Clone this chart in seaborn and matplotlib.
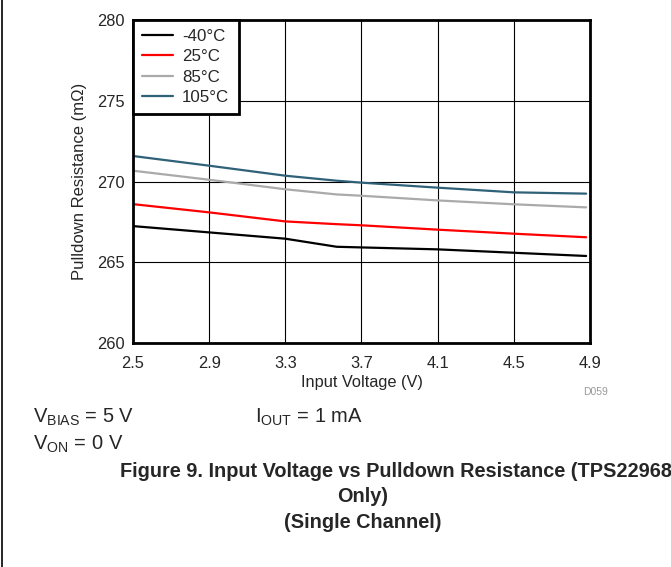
import pandas as pd
import numpy as np
import matplotlib.pyplot as plt
import matplotlib.lines as mlines
import seaborn as sns

# Values
vin = [2.5, 2.9, 3.3, 3.57, 3.7, 4.1, 4.5, 4.88]
r_m40 = [267.24, 266.85, 266.46, 265.96, 265.92, 265.80, 265.59, 265.39]
r_25 = [268.60, 268.09, 267.53, 267.36, 267.29, 267.02, 266.77, 266.55]
r_85 = [270.67, 270.11, 269.52, 269.20, 269.12, 268.83, 268.59, 268.40]
r_105 = [271.58, 270.98, 270.36, 270.05, 269.93, 269.62, 269.33, 269.25]
temps = ['-40°C', '25°C', '85°C', '105°C']
colors = ['#000000', '#ff0000', '#aaaaaa', '#2f6178']

sns.set_style('white')
plt.rcParams['font.family'] = ['Liberation Sans', 'DejaVu Sans']
plt.rcParams['mathtext.fontset'] = 'custom'
plt.rcParams['mathtext.rm'] = 'Liberation Sans'

df = pd.DataFrame({
    'vin': vin * 4,
    'r': r_m40 + r_25 + r_85 + r_105,
    'temp': np.repeat(temps, len(vin)),
})

fig = plt.figure(figsize=(6.71, 5.67), dpi=100)
ax = fig.add_axes([0.1982, 0.395, 0.681, 0.5697])
sns.lineplot(data=df, x='vin', y='r', hue='temp', hue_order=temps,
             palette=colors, linewidth=1.6, ax=ax)

ax.set_xlim(2.5, 4.9)
ax.set_ylim(260, 280)
ax.set_xticks([2.5, 2.9, 3.3, 3.7, 4.1, 4.5, 4.9])
ax.set_xticklabels(['2.5', '2.9', '3.3', '3.7', '4.1', '4.5', '4.9'])
ax.set_yticks([260, 265, 270, 275, 280])
ax.grid(True, color='black', linewidth=0.8)
ax.tick_params(length=0, labelsize=11.8)
ax.tick_params(axis='x', pad=9)
ax.tick_params(axis='y', pad=6)
for s in ax.spines.values():
    s.set_linewidth(2)
    s.set_color('black')
ax.set_xlabel('Input Voltage (V)', fontsize=11.8, labelpad=3)
ax.set_ylabel('Pulldown Resistance (mΩ)', fontsize=12, labelpad=7)

leg = ax.legend(loc='upper left', borderaxespad=0, fancybox=False,
                fontsize=12.2, handlelength=1.8, handletextpad=0.55,
                labelspacing=0.3, borderpad=0.55, framealpha=1)
leg.get_frame().set_edgecolor('black')
leg.get_frame().set_linewidth(2)

fig.text(0.888, 0.304, 'D059', fontsize=7.5, color='#999999', ha='center')

fig.text(0.049, 0.254, r'$\mathregular{V_{BIAS}}$ = 5 V', fontsize=14.5)
fig.text(0.38, 0.254, r'$\mathregular{I_{OUT}}$ = 1 mA', fontsize=14.5)
fig.text(0.049, 0.206, r'$\mathregular{V_{ON}}$ = 0 V', fontsize=14.5)

fig.text(0.179, 0.168, 'Figure 9. Input Voltage vs Pulldown Resistance (TPS22968',
         fontsize=14.3, fontweight='bold', ha='left', va='center')
fig.text(0.54, 0.124, 'Only)', fontsize=14.3, fontweight='bold',
         ha='center', va='center')
fig.text(0.54, 0.079, '(Single Channel)', fontsize=14.3, fontweight='bold',
         ha='center', va='center')

fig.add_artist(mlines.Line2D([0.003, 0.003], [0, 1], color='black',
                             linewidth=1.2))

fig.savefig('out.png', dpi=100)
